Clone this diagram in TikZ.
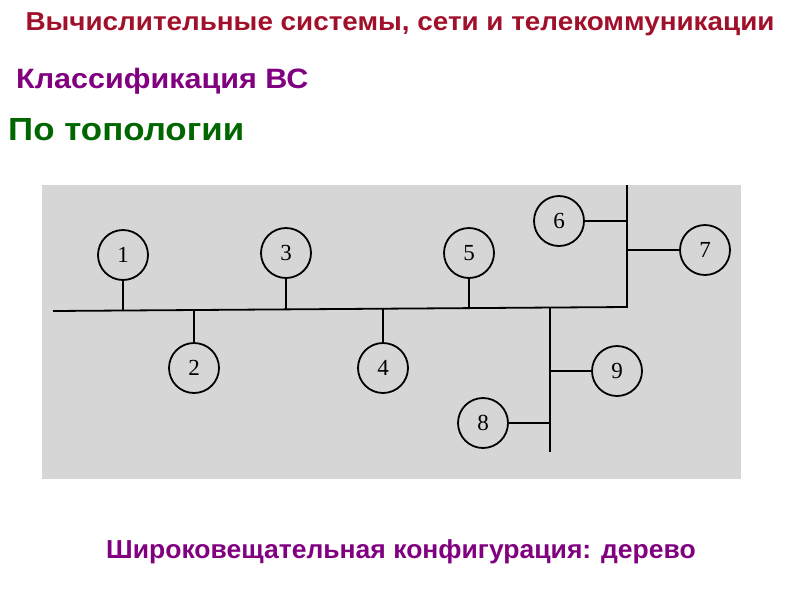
\documentclass[tikz,border=0pt]{standalone}
\usepackage{fontspec}
\setmainfont{Liberation Sans}
\newfontfamily\numfont{Liberation Serif}
\definecolor{titlered}{HTML}{A0102A}
\definecolor{purp}{HTML}{800080}
\definecolor{dgreen}{HTML}{006600}
\definecolor{paper}{HTML}{D6D6D6}
\begin{document}
\begin{tikzpicture}[x=1pt,y=-1pt,
  host/.style={circle,draw=black,line width=1.8pt,minimum size=50pt,inner sep=0pt,font=\numfont\fontsize{23}{23}\selectfont},
  wire/.style={line width=1.8pt,black}]
\useasboundingbox (0,0) rectangle (800,600);
\fill[paper] (42,185) rectangle (741,479);
\node[font=\bfseries\fontsize{24}{24}\selectfont,text=titlered,anchor=base,xscale=1.16,yscale=1.08,inner sep=0pt] (title) at (400,30) {Вычислительные системы, сети и телекоммуникации};
\node[font=\bfseries\fontsize{28}{28}\selectfont,text=purp,anchor=base west,xscale=1.09,inner sep=0pt] (cls) at (16,88) {Классификация ВС};
\node[font=\bfseries\fontsize{32}{32}\selectfont,text=dgreen,anchor=base west,xscale=1.09,inner sep=0pt] (topo) at (8,140) {По топологии};
\node[font=\bfseries\fontsize{26}{26}\selectfont,text=purp,anchor=base,xscale=1.02,inner sep=0pt] (cap) at (401,558) {Широковещательная конфигурация: дерево};
% hosts
\node[host] (n1) at (123,255) {1};
\node[host] (n2) at (194,368) {2};
\node[host] (n3) at (286,253) {3};
\node[host] (n4) at (383,368) {4};
\node[host] (n5) at (469,253) {5};
\node[host] (n6) at (559,221) {6};
\node[host] (n7) at (705,250) {7};
\node[host] (n8) at (483,423) {8};
\node[host] (n9) at (617,371) {9};
% bus coordinates
\coordinate (busL) at (53,311);
\coordinate (busR) at (627,307);
\coordinate (vtop) at (627,185);
\coordinate (b2) at (550,307);
\coordinate (b2end) at (550,452);
\draw[wire] (busL) -- (busR) -- (vtop);
\draw[wire] (b2) -- (b2end);
\draw[wire] (n1.south) -- (n1.south |- busL);
\draw[wire] (n2.north) -- (n2.north |- busL);
\draw[wire] (n3.south) -- (n3.south |- 0,310);
\draw[wire] (n4.north) -- (n4.north |- 0,309);
\draw[wire] (n5.south) -- (n5.south |- 0,308);
\draw[wire] (n6.east) -- (n6.east -| busR);
\draw[wire] (n7.west) -- (n7.west -| busR);
\draw[wire] (n9.west) -- (n9.west -| b2);
\draw[wire] (n8.east) -- (n8.east -| b2);
\end{tikzpicture}
\end{document}
